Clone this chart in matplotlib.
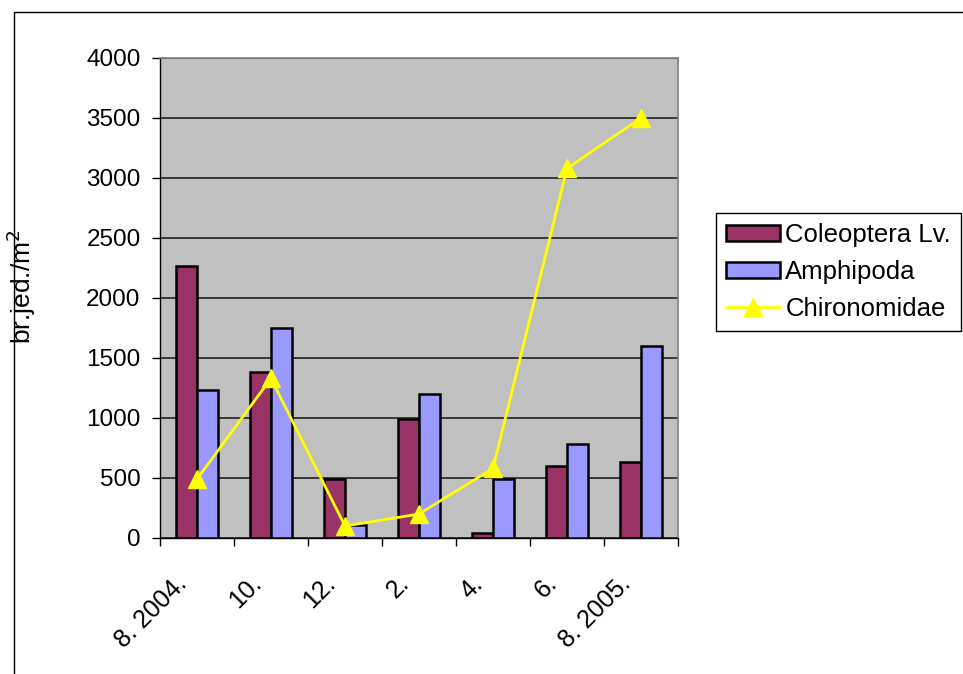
import matplotlib
matplotlib.use("Agg")
import matplotlib.pyplot as plt
import matplotlib.transforms as mtransforms
import numpy as np
from matplotlib.patches import Rectangle, Patch
from matplotlib.lines import Line2D

categories = ["8. 2004.", "10.", "12.", "2.", "4.", "6.", "8. 2005."]
coleoptera = [2270, 1380, 490, 990, 40, 600, 630]
amphipoda = [1230, 1750, 110, 1200, 490, 780, 1600]
chironomidae = [490, 1330, 100, 200, 580, 3080, 3500]
yticks = [0, 500, 1000, 1500, 2000, 2500, 3000, 3500, 4000]

plt.rcParams['font.family'] = ['Liberation Sans', 'DejaVu Sans']

W, H = 963, 674
fig = plt.figure(figsize=(W/100, H/100), dpi=100)
ax = fig.add_axes([160/W, 1-538/H, (678-160)/W, (538-58)/H])
ax.set_facecolor('#C0C0C0')

x = np.arange(len(categories))
bw = 0.29
ax.bar(x - bw/2, coleoptera, bw, color='#993366', edgecolor='black', linewidth=1.8, zorder=3)
ax.bar(x + bw/2, amphipoda, bw, color='#9999FF', edgecolor='black', linewidth=1.8, zorder=3)
ax.plot(x, chironomidae, color='#FFFF00', marker='^', markersize=13, linewidth=2, zorder=4, clip_on=False)

ax.set_xlim(-0.5, len(categories) - 0.5)
ax.set_ylim(0, 4000)
ax.set_yticks(yticks)
ax.set_yticklabels([str(v) for v in yticks], fontsize=17.5)
ax.yaxis.grid(True, color='#222222', linewidth=1.2, zorder=1)
ax.set_axisbelow(True)

ax.set_xticks(np.arange(len(categories) + 1) - 0.5)
ax.set_xticklabels([])
ax.set_xticks(x, minor=True)
ax.set_xticklabels(categories, minor=True, rotation=45, ha='right', va='top',
                   rotation_mode='anchor', fontsize=18)
ax.tick_params(axis='x', which='minor', length=0, pad=24)
ax.tick_params(axis='x', which='major', direction='out', length=6, width=1, color='black')
ax.tick_params(axis='y', direction='out', length=6, width=1, color='black', pad=8)
offset = mtransforms.ScaledTranslation(-16/72, 0, fig.dpi_scale_trans)
for lbl in ax.get_xticklabels(minor=True):
    lbl.set_transform(lbl.get_transform() + offset)

for side in ['top', 'right']:
    ax.spines[side].set_color('#808080')
    ax.spines[side].set_linewidth(1.2)
for side in ['left', 'bottom']:
    ax.spines[side].set_color('black')
    ax.spines[side].set_linewidth(1)

fig.text(21/W, 1-287/H, 'br.jed./m$^2$', rotation=90, ha='center', va='center', fontsize=19)

handles = [Patch(facecolor='#993366', edgecolor='black', linewidth=1.8),
           Patch(facecolor='#9999FF', edgecolor='black', linewidth=1.8),
           Line2D([], [], color='#FFFF00', marker='^', markersize=13, linewidth=2)]
leg = fig.legend(handles, ['Coleoptera Lv.', 'Amphipoda', 'Chironomidae'],
                 loc='upper left', bbox_to_anchor=(716/W, 1-213/H), fontsize=18.5,
                 frameon=True, fancybox=False, edgecolor='black', framealpha=1,
                 handlelength=2.1, handleheight=0.6, handletextpad=0.2, borderpad=0.4,
                 labelspacing=0.5, borderaxespad=0)
leg.get_frame().set_linewidth(1)

fig.add_artist(Rectangle((14/W, -0.5), 2, 1 - 12/H + 0.5, transform=fig.transFigure,
                         fill=False, edgecolor='black', linewidth=1, clip_on=False))

fig.savefig('out.png', dpi=100)
